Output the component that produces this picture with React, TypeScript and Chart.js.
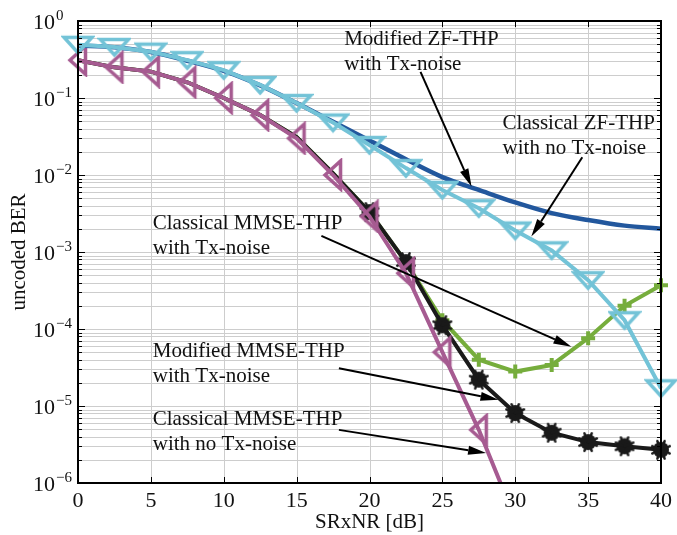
import React, { useEffect, useRef } from 'react';
import { Chart, registerables } from 'chart.js';

Chart.register(...registerables);

// ---------------- data ----------------
const snrDb = [0, 2.5, 5, 7.5, 10, 12.5, 15, 17.5, 20, 22.5, 25, 27.5, 30, 32.5, 35, 37.5, 40];

const modifiedZfTx = [0.48, 0.455, 0.395, 0.305, 0.225, 0.146, 0.086, 0.049, 0.028, 0.016, 0.0094, 0.0064, 0.0044, 0.0032, 0.0026, 0.0022, 0.0020];
const classicalZfNoTx = [0.49, 0.46, 0.40, 0.31, 0.23, 0.148, 0.086, 0.048, 0.0245, 0.0123, 0.0064, 0.0037, 0.0019, 0.00105, 0.00043, 0.00013, 0.000017];
const modifiedMmseTx = [0.31, 0.25, 0.22, 0.16, 0.10, 0.060, 0.031, 0.0105, 0.0033, 0.00074, 0.000112, 0.000022, 0.0000081, 0.0000045, 0.0000034, 0.0000030, 0.0000027];
const classicalMmseTx = [0.31, 0.25, 0.22, 0.16, 0.10, 0.060, 0.031, 0.0105, 0.0033, 0.00074, 0.00013, 0.000040, 0.000028, 0.000034, 0.000076, 0.00020, 0.00037];
const classicalMmseNoTx = [0.31, 0.25, 0.22, 0.16, 0.10, 0.060, 0.030, 0.0100, 0.0029, 0.00053, 0.000050, 0.0000049, 0.00000034];

// the black markers of the modified MMSE curve are visible from this SNR on
const modifiedMmseMarkersFrom = 20;

const xTickValues = [0, 5, 10, 15, 20, 25, 30, 35, 40];
const yDecadeExponents = [0, -1, -2, -3, -4, -5, -6];
const xTitle = 'SRxNR [dB]';
const yTitle = 'uncoded BER';

// annotations: text anchor and arrow in data units (dB, log10 BER)
const annotations = [
  { lines: ['Modified ZF-THP', 'with Tx-noise'], at: [18.26, -0.312], from: [23.5, -0.66], to: [27.0, -2.15] },
  { lines: ['Classical ZF-THP', 'with no Tx-noise'], at: [29.13, -1.40], from: [34.6, -1.77], to: [31.1, -2.80] },
  { lines: ['Classical MMSE-THP', 'with Tx-noise'], at: [5.13, -2.70], from: [16.7, -2.79], to: [33.85, -4.23] },
  { lines: ['Modified MMSE-THP', 'with Tx-noise'], at: [5.13, -4.36], from: [17.9, -4.51], to: [28.85, -4.92] },
  { lines: ['Classical MMSE-THP', 'with no Tx-noise'], at: [5.13, -5.25], from: [17.9, -5.31], to: [28.0, -5.61] },
];

const SERIF = '"Liberation Serif", "Times New Roman", serif';

const COLORS = {
  darkBlue: '#22579d',
  lightBlue: '#73c3d7',
  purple: '#a65b91',
  black: '#1a1a1a',
  green: '#76ad3c',
};

function makeMarker(w: number, h: number, draw: (c: CanvasRenderingContext2D) => void) {
  const cv = document.createElement('canvas');
  cv.width = w;
  cv.height = h;
  const c = cv.getContext('2d')!;
  draw(c);
  return cv;
}

const framePlugin = {
  id: 'matlabFrame',
  beforeDatasetsDraw(chart: any) {
    const { ctx, chartArea: a, scales } = chart;
    const xs = scales.x, ys = scales.y;
    ctx.save();
    ctx.lineWidth = 1;
    ctx.strokeStyle = '#cdcdcd';
    for (const v of xTickValues) {
      const px = Math.round(xs.getPixelForValue(v)) + 0.5;
      ctx.beginPath();
      ctx.moveTo(px, a.top);
      ctx.lineTo(px, a.bottom);
      ctx.stroke();
    }
    for (const e of yDecadeExponents) {
      if (e === 0) continue;
      for (let m = 1; m <= 9; m++) {
        const py = Math.round(ys.getPixelForValue(m * Math.pow(10, e))) + 0.5;
        ctx.beginPath();
        ctx.moveTo(a.left, py);
        ctx.lineTo(a.right, py);
        ctx.stroke();
      }
    }
    ctx.restore();
  },
  afterDatasetsDraw(chart: any) {
    const { ctx, chartArea: a, scales } = chart;
    const xs = scales.x, ys = scales.y;
    ctx.save();
    ctx.strokeStyle = '#000';
    ctx.lineWidth = 1;
    for (const v of xTickValues) {
      const px = Math.round(xs.getPixelForValue(v)) + 0.5;
      ctx.beginPath();
      ctx.moveTo(px, a.bottom); ctx.lineTo(px, a.bottom - 6);
      ctx.moveTo(px, a.top); ctx.lineTo(px, a.top + 6);
      ctx.stroke();
    }
    for (const e of yDecadeExponents) {
      for (let m = 1; m <= 9; m++) {
        if (e === 0 && m > 1) continue;
        const py = Math.round(ys.getPixelForValue(m * Math.pow(10, e))) + 0.5;
        const len = m === 1 ? 7 : 4;
        ctx.beginPath();
        ctx.moveTo(a.left, py); ctx.lineTo(a.left + len, py);
        ctx.moveTo(a.right, py); ctx.lineTo(a.right - len, py);
        ctx.stroke();
      }
    }
    ctx.lineWidth = 2;
    ctx.strokeRect(a.left, a.top, a.right - a.left, a.bottom - a.top);

    ctx.fillStyle = '#111';
    ctx.textBaseline = 'alphabetic';
    ctx.font = `22px ${SERIF}`;
    ctx.textAlign = 'center';
    for (const v of xTickValues) {
      ctx.fillText(String(v), xs.getPixelForValue(v), a.bottom + 24);
    }
    for (const e of yDecadeExponents) {
      const py = ys.getPixelForValue(Math.pow(10, e));
      ctx.textAlign = 'left';
      ctx.font = `22px ${SERIF}`;
      ctx.fillText('10', 33, py + 7.5);
      ctx.font = `15px ${SERIF}`;
      ctx.fillText(e === 0 ? '0' : '\u2212' + String(-e), 56, py - 1);
    }
    ctx.font = `21px ${SERIF}`;
    ctx.textAlign = 'center';
    ctx.fillText(xTitle, (a.left + a.right) / 2, 528);
    ctx.save();
    ctx.translate(25, (a.top + a.bottom) / 2);
    ctx.rotate(-Math.PI / 2);
    ctx.fillText(yTitle, 0, 0);
    ctx.restore();

    ctx.textAlign = 'left';
    ctx.font = `21px ${SERIF}`;
    for (const an of annotations) {
      const tx = xs.getPixelForValue(an.at[0]);
      const ty = ys.getPixelForValue(Math.pow(10, an.at[1]));
      ctx.fillStyle = '#111';
      an.lines.forEach((t, i) => ctx.fillText(t, tx, ty + i * 25));
      const x1 = xs.getPixelForValue(an.from[0]);
      const y1 = ys.getPixelForValue(Math.pow(10, an.from[1]));
      const x2 = xs.getPixelForValue(an.to[0]);
      const y2 = ys.getPixelForValue(Math.pow(10, an.to[1]));
      const ang = Math.atan2(y2 - y1, x2 - x1);
      const L = 18, W = 4.5;
      const bx = x2 - Math.cos(ang) * L, by = y2 - Math.sin(ang) * L;
      ctx.strokeStyle = '#000';
      ctx.lineWidth = 2;
      ctx.beginPath();
      ctx.moveTo(x1, y1);
      ctx.lineTo(bx, by);
      ctx.stroke();
      ctx.fillStyle = '#000';
      ctx.beginPath();
      ctx.moveTo(x2, y2);
      ctx.lineTo(bx + Math.sin(ang) * W, by - Math.cos(ang) * W);
      ctx.lineTo(bx - Math.sin(ang) * W, by + Math.cos(ang) * W);
      ctx.closePath();
      ctx.fill();
    }
    ctx.restore();
  },
};

const toPoints = (ys: number[]) => ys.map((y, i) => ({ x: snrDb[i], y }));

export default function App() {
  const ref = useRef<HTMLCanvasElement | null>(null);
  useEffect(() => {
    document.body.style.margin = '0';

    const downTri = makeMarker(34, 22, (c) => {
      c.strokeStyle = COLORS.lightBlue;
      c.lineWidth = 3.5;
      c.lineJoin = 'miter';
      c.beginPath();
      c.moveTo(3, 3.5);
      c.lineTo(31, 3.5);
      c.lineTo(17, 19);
      c.closePath();
      c.stroke();
    });
    const leftTri = makeMarker(22, 34, (c) => {
      c.strokeStyle = COLORS.purple;
      c.lineWidth = 3.5;
      c.lineJoin = 'miter';
      c.beginPath();
      c.moveTo(3, 17);
      c.lineTo(18.5, 3);
      c.lineTo(18.5, 31);
      c.closePath();
      c.stroke();
    });
    const blob = makeMarker(22, 22, (c) => {
      c.fillStyle = COLORS.black;
      c.beginPath();
      c.arc(11, 11, 8, 0, Math.PI * 2);
      c.fill();
      c.strokeStyle = COLORS.black;
      c.lineWidth = 2.5;
      c.lineCap = 'round';
      for (let k = 0; k < 8; k++) {
        const ang = (k * Math.PI) / 4 + Math.PI / 8;
        c.beginPath();
        c.moveTo(11, 11);
        c.lineTo(11 + Math.cos(ang) * 9.5, 11 + Math.sin(ang) * 9.5);
        c.stroke();
      }
    });

    const canvas = ref.current!;
    const chart = new Chart(canvas, {
      type: 'line',
      data: {
        datasets: [
          {
            label: 'Classical ZF-THP with no Tx-noise',
            data: toPoints(classicalZfNoTx),
            borderColor: COLORS.lightBlue,
            borderWidth: 4,
            pointStyle: downTri,
            pointRadius: 12,
            clip: false as any,
          },
          {
            label: 'Modified ZF-THP with Tx-noise',
            data: toPoints(modifiedZfTx),
            borderColor: COLORS.darkBlue,
            borderWidth: 4.5,
            pointRadius: 0,
            cubicInterpolationMode: 'monotone',
            clip: false as any,
          },
          {
            label: 'Classical MMSE-THP with no Tx-noise',
            data: toPoints(classicalMmseNoTx),
            borderColor: COLORS.purple,
            borderWidth: 4,
            pointStyle: leftTri,
            pointRadius: 12,
            clip: { left: false, right: false, top: false, bottom: 0 } as any,
          },
          {
            label: 'Modified MMSE-THP with Tx-noise',
            data: toPoints(modifiedMmseTx),
            borderColor: COLORS.black,
            borderWidth: 4,
            pointStyle: blob,
            pointRadius: (c: any) => (c.raw && c.raw.x >= modifiedMmseMarkersFrom ? 9 : 0),
            clip: false as any,
          },
          {
            label: 'Classical MMSE-THP with Tx-noise',
            data: toPoints(classicalMmseTx),
            borderColor: COLORS.green,
            borderWidth: 4,
            pointStyle: 'cross',
            pointRadius: (c: any) => (c.raw && c.raw.x >= 25 ? 7 : 0),
            pointBorderWidth: 4,
            pointBorderColor: COLORS.green,
            clip: false as any,
          },
        ],
      },
      options: {
        responsive: false,
        animation: false,
        devicePixelRatio: 1,
        layout: { padding: { left: 0, right: 14, top: 21, bottom: 0 } },
        plugins: { legend: { display: false }, tooltip: { enabled: false } },
        scales: {
          x: {
            type: 'linear',
            min: 0,
            max: 40,
            ticks: { display: false },
            grid: { display: false },
            border: { display: false },
            afterFit: (s: any) => { s.height = 52; },
          },
          y: {
            type: 'logarithmic',
            min: 1e-6,
            max: 1,
            ticks: { display: false },
            grid: { display: false },
            border: { display: false },
            afterFit: (s: any) => { s.width = 78; },
          },
        },
      },
      plugins: [framePlugin],
    } as any);
    return () => chart.destroy();
  }, []);
  return <canvas ref={ref} width={677} height={535} style={{ display: 'block' }} />;
}
